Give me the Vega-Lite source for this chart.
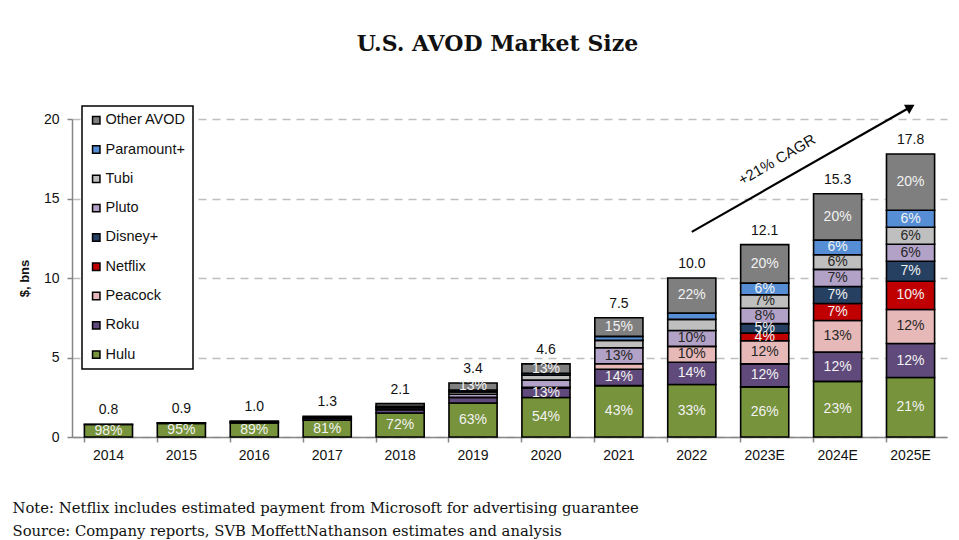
{
  "$schema": "https://vega.github.io/schema/vega-lite/v6.json",
  "autosize": {"type": "none"},
  "width": 875,
  "height": 318,
  "padding": {"left": 72, "top": 119, "right": 12, "bottom": 103},
  "background": "white",
  "title": {
    "text": "U.S. AVOD Market Size",
    "font": "DejaVu Serif",
    "fontSize": 22,
    "fontWeight": "bold",
    "color": "#111111",
    "anchor": "middle",
    "frame": "group",
    "dx": -12,
    "offset": 47
  },
  "config": {
    "view": {"stroke": null},
    "font": "Liberation Sans"
  },
  "datasets": {
    "segments": [
      {"year": "2014", "service": "Hulu", "value": 0.784, "label": "98%"},
      {"year": "2014", "service": "Roku", "value": 0.016, "label": null},
      {"year": "2015", "service": "Hulu", "value": 0.855, "label": "95%"},
      {"year": "2015", "service": "Roku", "value": 0.045, "label": null},
      {"year": "2016", "service": "Hulu", "value": 0.89, "label": "89%"},
      {"year": "2016", "service": "Roku", "value": 0.07, "label": null},
      {"year": "2016", "service": "Other AVOD", "value": 0.04, "label": null},
      {"year": "2017", "service": "Hulu", "value": 1.05, "label": "81%"},
      {"year": "2017", "service": "Roku", "value": 0.12, "label": null},
      {"year": "2017", "service": "Pluto", "value": 0.06, "label": null},
      {"year": "2017", "service": "Other AVOD", "value": 0.07, "label": null},
      {"year": "2018", "service": "Hulu", "value": 1.51, "label": "72%"},
      {"year": "2018", "service": "Roku", "value": 0.2, "label": null},
      {"year": "2018", "service": "Pluto", "value": 0.12, "label": null},
      {"year": "2018", "service": "Tubi", "value": 0.1, "label": null},
      {"year": "2018", "service": "Other AVOD", "value": 0.17, "label": null},
      {"year": "2019", "service": "Hulu", "value": 2.14, "label": "63%"},
      {"year": "2019", "service": "Roku", "value": 0.35, "label": null},
      {"year": "2019", "service": "Pluto", "value": 0.2, "label": null},
      {"year": "2019", "service": "Tubi", "value": 0.15, "label": null},
      {"year": "2019", "service": "Paramount+", "value": 0.12, "label": null},
      {"year": "2019", "service": "Other AVOD", "value": 0.44, "label": "13%"},
      {"year": "2020", "service": "Hulu", "value": 2.48, "label": "54%"},
      {"year": "2020", "service": "Roku", "value": 0.6, "label": "13%"},
      {"year": "2020", "service": "Peacock", "value": 0.05, "label": null},
      {"year": "2020", "service": "Pluto", "value": 0.45, "label": null},
      {"year": "2020", "service": "Tubi", "value": 0.3, "label": null},
      {"year": "2020", "service": "Paramount+", "value": 0.12, "label": null},
      {"year": "2020", "service": "Other AVOD", "value": 0.6, "label": "13%"},
      {"year": "2021", "service": "Hulu", "value": 3.23, "label": "43%"},
      {"year": "2021", "service": "Roku", "value": 1.03, "label": "14%"},
      {"year": "2021", "service": "Peacock", "value": 0.35, "label": null},
      {"year": "2021", "service": "Pluto", "value": 1.0, "label": "13%"},
      {"year": "2021", "service": "Tubi", "value": 0.47, "label": null},
      {"year": "2021", "service": "Paramount+", "value": 0.25, "label": null},
      {"year": "2021", "service": "Other AVOD", "value": 1.17, "label": "15%"},
      {"year": "2022", "service": "Hulu", "value": 3.3, "label": "33%"},
      {"year": "2022", "service": "Roku", "value": 1.4, "label": "14%"},
      {"year": "2022", "service": "Peacock", "value": 1.0, "label": "10%"},
      {"year": "2022", "service": "Pluto", "value": 1.0, "label": "10%"},
      {"year": "2022", "service": "Tubi", "value": 0.7, "label": null},
      {"year": "2022", "service": "Paramount+", "value": 0.4, "label": null},
      {"year": "2022", "service": "Other AVOD", "value": 2.2, "label": "22%"},
      {"year": "2023E", "service": "Hulu", "value": 3.15, "label": "26%"},
      {"year": "2023E", "service": "Roku", "value": 1.45, "label": "12%"},
      {"year": "2023E", "service": "Peacock", "value": 1.45, "label": "12%"},
      {"year": "2023E", "service": "Netflix", "value": 0.48, "label": "4%"},
      {"year": "2023E", "service": "Disney+", "value": 0.6, "label": "5%"},
      {"year": "2023E", "service": "Pluto", "value": 0.97, "label": "8%"},
      {"year": "2023E", "service": "Tubi", "value": 0.85, "label": "7%"},
      {"year": "2023E", "service": "Paramount+", "value": 0.73, "label": "6%"},
      {"year": "2023E", "service": "Other AVOD", "value": 2.42, "label": "20%"},
      {"year": "2024E", "service": "Hulu", "value": 3.5, "label": "23%"},
      {"year": "2024E", "service": "Roku", "value": 1.84, "label": "12%"},
      {"year": "2024E", "service": "Peacock", "value": 1.99, "label": "13%"},
      {"year": "2024E", "service": "Netflix", "value": 1.07, "label": "7%"},
      {"year": "2024E", "service": "Disney+", "value": 1.07, "label": "7%"},
      {"year": "2024E", "service": "Pluto", "value": 1.07, "label": "7%"},
      {"year": "2024E", "service": "Tubi", "value": 0.92, "label": "6%"},
      {"year": "2024E", "service": "Paramount+", "value": 0.92, "label": "6%"},
      {"year": "2024E", "service": "Other AVOD", "value": 2.92, "label": "20%"},
      {"year": "2025E", "service": "Hulu", "value": 3.74, "label": "21%"},
      {"year": "2025E", "service": "Roku", "value": 2.14, "label": "12%"},
      {"year": "2025E", "service": "Peacock", "value": 2.14, "label": "12%"},
      {"year": "2025E", "service": "Netflix", "value": 1.78, "label": "10%"},
      {"year": "2025E", "service": "Disney+", "value": 1.25, "label": "7%"},
      {"year": "2025E", "service": "Pluto", "value": 1.07, "label": "6%"},
      {"year": "2025E", "service": "Tubi", "value": 1.07, "label": "6%"},
      {"year": "2025E", "service": "Paramount+", "value": 1.07, "label": "6%"},
      {"year": "2025E", "service": "Other AVOD", "value": 3.54, "label": "20%"}
    ],
    "totals": [
      {"year": "2014", "total": 0.8, "text": "0.8"},
      {"year": "2015", "total": 0.9, "text": "0.9"},
      {"year": "2016", "total": 1.0, "text": "1.0"},
      {"year": "2017", "total": 1.3, "text": "1.3"},
      {"year": "2018", "total": 2.1, "text": "2.1"},
      {"year": "2019", "total": 3.4, "text": "3.4"},
      {"year": "2020", "total": 4.6, "text": "4.6"},
      {"year": "2021", "total": 7.5, "text": "7.5"},
      {"year": "2022", "total": 10.0, "text": "10.0"},
      {"year": "2023E", "total": 12.1, "text": "12.1"},
      {"year": "2024E", "total": 15.3, "text": "15.3"},
      {"year": "2025E", "total": 17.8, "text": "17.8"}
    ],
    "arrow": [
      {"year": "2022", "v": 12.9},
      {"year": "2025E", "v": 20.75}
    ],
    "arrowhead": [
      {"year": "2025E", "v": 20.75}
    ],
    "cagr": [
      {"year": "2023E", "v": 17.0, "text": "+21% CAGR"}
    ]
  },
  "encoding": {
    "x": {
      "field": "year",
      "type": "nominal",
      "scale": {
        "domain": ["2014", "2015", "2016", "2017", "2018", "2019", "2020", "2021", "2022", "2023E", "2024E", "2025E"],
        "paddingInner": 0.34,
        "paddingOuter": 0.17
      },
      "axis": {
        "labelAngle": 0,
        "labelFont": "Liberation Sans",
        "labelFontSize": 14,
        "labelColor": "#111111",
        "labelPadding": 6,
        "domainColor": "#868686",
        "domainWidth": 1.5,
        "tickColor": "#868686",
        "tickWidth": 1.5,
        "tickSize": 5,
        "bandPosition": 0,
        "title": ["Note: Netflix includes estimated payment from Microsoft for advertising guarantee", "Source: Company reports, SVB MoffettNathanson estimates and analysis"],
        "titleFont": "DejaVu Serif",
        "titleFontSize": 14.8,
        "titleFontWeight": "normal",
        "titleColor": "#111111",
        "titleAlign": "left",
        "titleAnchor": "start",
        "titleBaseline": "alphabetic",
        "titleX": -60,
        "titleY": 75,
        "titleLineHeight": 23
      }
    }
  },
  "layer": [
    {
      "data": {"name": "segments"},
      "transform": [
        {"calculate": "indexof(['Hulu','Roku','Peacock','Netflix','Disney+','Pluto','Tubi','Paramount+','Other AVOD'], datum.service)", "as": "rank"},
        {"stack": "value", "groupby": ["year"], "sort": [{"field": "rank", "order": "ascending"}], "as": ["y0", "y1"]}
      ],
      "mark": {"type": "bar", "stroke": "#000000", "strokeWidth": 1.6},
      "encoding": {
        "y": {
          "field": "y0",
          "type": "quantitative",
          "scale": {"domain": [0, 20], "nice": false},
          "axis": {
            "values": [0, 5, 10, 15, 20],
            "title": "$, bns",
            "titleFont": "Liberation Sans",
            "titleFontSize": 13,
            "titleFontWeight": "bold",
            "titleColor": "#111111",
            "titlePadding": 12,
            "labelFont": "Liberation Sans",
            "labelFontSize": 14,
            "labelColor": "#111111",
            "labelPadding": 8,
            "domainColor": "#868686",
            "domainWidth": 1.5,
            "tickColor": "#868686",
            "tickWidth": 1.5,
            "tickSize": 5,
            "grid": true,
            "gridColor": "#BFBFBF",
            "gridWidth": 1.5,
            "gridDash": [8, 6]
          }
        },
        "y2": {"field": "y1"},
        "fill": {
          "field": "service",
          "type": "nominal",
          "scale": {
            "domain": ["Other AVOD", "Paramount+", "Tubi", "Pluto", "Disney+", "Netflix", "Peacock", "Roku", "Hulu"],
            "range": ["#7F7F7F", "#558ED5", "#BFBFBF", "#B3A2C7", "#254061", "#C00000", "#E6B9B8", "#604A7B", "#77933C"]
          },
          "legend": {
            "title": null,
            "orient": "none",
            "legendX": 10,
            "legendY": -13,
            "padding": 7,
            "strokeColor": "#000000",
            "fillColor": "#FFFFFF",
            "symbolType": "square",
            "symbolSize": 55,
            "symbolStrokeColor": "#000000",
            "symbolStrokeWidth": 1.5,
            "labelFont": "Liberation Sans",
            "labelFontSize": 14.5,
            "labelColor": "#111111",
            "labelOffset": 2,
            "rowPadding": 14.3,
            "encode": {"legend": {"update": {"strokeWidth": {"value": 1.5}}}}
          }
        }
      }
    },
    {
      "data": {"name": "segments"},
      "transform": [
        {"calculate": "indexof(['Hulu','Roku','Peacock','Netflix','Disney+','Pluto','Tubi','Paramount+','Other AVOD'], datum.service)", "as": "rank"},
        {"stack": "value", "groupby": ["year"], "sort": [{"field": "rank", "order": "ascending"}], "as": ["y0", "y1"]},
        {"calculate": "(datum.y0 + datum.y1) / 2", "as": "mid"},
        {"filter": "datum.label != null"}
      ],
      "mark": {"type": "text", "font": "Liberation Sans", "fontSize": 14, "baseline": "middle", "align": "center"},
      "encoding": {
        "y": {"field": "mid", "type": "quantitative"},
        "text": {"field": "label"},
        "color": {
          "field": "service",
          "type": "nominal",
          "scale": {
            "domain": ["Other AVOD", "Paramount+", "Tubi", "Pluto", "Disney+", "Netflix", "Peacock", "Roku", "Hulu"],
            "range": ["#F2F2F2", "#F2F2F2", "#262626", "#262626", "#F2F2F2", "#F2F2F2", "#262626", "#F2F2F2", "#F2F2F2"]
          },
          "legend": null
        }
      }
    },
    {
      "data": {"name": "totals"},
      "mark": {"type": "text", "font": "Liberation Sans", "fontSize": 14, "color": "#111111", "baseline": "alphabetic", "dy": -10},
      "encoding": {
        "y": {"field": "total", "type": "quantitative"},
        "text": {"field": "text"}
      }
    },
    {
      "data": {"name": "arrow"},
      "mark": {"type": "line", "color": "#000000", "strokeWidth": 2.2},
      "encoding": {
        "y": {"field": "v", "type": "quantitative"}
      }
    },
    {
      "data": {"name": "arrowhead"},
      "mark": {"type": "point", "shape": "triangle-right", "filled": true, "color": "#000000", "size": 110, "angle": -30, "opacity": 1},
      "encoding": {
        "y": {"field": "v", "type": "quantitative"}
      }
    },
    {
      "data": {"name": "cagr"},
      "mark": {"type": "text", "font": "Liberation Sans", "fontSize": 15, "color": "#111111", "angle": -30, "dx": 14, "baseline": "middle", "align": "center"},
      "encoding": {
        "y": {"field": "v", "type": "quantitative"},
        "text": {"field": "text"}
      }
    }
  ]
}
